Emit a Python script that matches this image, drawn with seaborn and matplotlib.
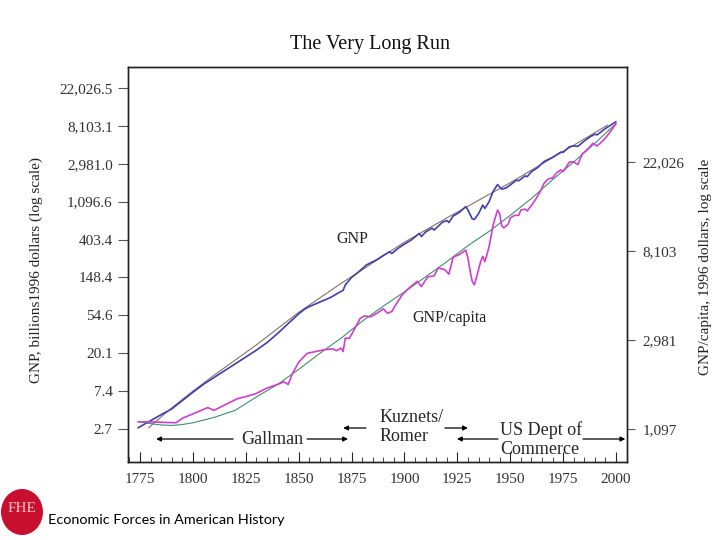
import numpy as np
import pandas as pd
import matplotlib
matplotlib.use("Agg")
import matplotlib.pyplot as plt
import seaborn as sns
from matplotlib.patches import Ellipse
from matplotlib.ticker import MultipleLocator

# ---------------- data (natural-log values) ----------------
gnp_years = [1774, 1780, 1785, 1790, 1795, 1800, 1805, 1810, 1815, 1820, 1825, 1830,
             1835, 1840, 1845, 1850, 1853, 1855, 1860, 1865, 1869, 1871, 1872, 1875,
             1878, 1882, 1887, 1890, 1893, 1894, 1897, 1900, 1903, 1907, 1908, 1910,
             1913, 1914, 1918, 1920, 1921, 1923, 1926, 1929, 1930, 1932, 1933, 1935,
             1937, 1938, 1940, 1942, 1944, 1946, 1948, 1950, 1953, 1954, 1957, 1958,
             1960, 1963, 1966, 1970, 1974, 1975, 1978, 1980, 1982, 1985, 1988, 1990,
             1991, 1995, 2000]
gnp_ln = [1.03, 1.22, 1.38, 1.53, 1.75, 1.97, 2.18, 2.36, 2.54, 2.72, 2.90, 3.08,
          3.28, 3.52, 3.78, 4.04, 4.17, 4.23, 4.35, 4.47, 4.60, 4.66, 4.80, 5.00,
          5.13, 5.33, 5.47, 5.58, 5.68, 5.63, 5.77, 5.88, 5.98, 6.16, 6.08, 6.20,
          6.30, 6.25, 6.46, 6.50, 6.45, 6.62, 6.72, 6.87, 6.78, 6.55, 6.53, 6.68,
          6.91, 6.82, 7.00, 7.28, 7.45, 7.33, 7.36, 7.44, 7.57, 7.55, 7.68, 7.66,
          7.79, 7.90, 8.06, 8.17, 8.31, 8.30, 8.45, 8.47, 8.46, 8.60, 8.72, 8.78,
          8.76, 8.93, 9.11]

gnp_trend_years = [1779, 1785, 1790, 1800, 1810, 1820, 1830, 1840, 1850, 1860, 1870,
                   1880, 1890, 1900, 1910, 1920, 1930, 1940, 1950, 1960, 1970, 1980,
                   1990, 1996]
gnp_trend_ln = [1.03, 1.32, 1.56, 2.00, 2.42, 2.82, 3.22, 3.65, 4.08, 4.46, 4.84,
                5.20, 5.57, 5.93, 6.25, 6.57, 6.88, 7.19, 7.50, 7.83, 8.16, 8.49,
                8.82, 9.02]

pc_years = [1774, 1780, 1785, 1792, 1795, 1800, 1807, 1810, 1815, 1821, 1826, 1830,
            1835, 1840, 1843, 1845, 1847, 1850, 1854, 1858, 1862, 1866, 1868, 1870,
            1871, 1872, 1874, 1877, 1879, 1881, 1884, 1887, 1890, 1892, 1894, 1896,
            1899, 1902, 1906, 1908, 1911, 1914, 1916, 1919, 1921, 1923, 1926, 1929,
            1930, 1931, 1932, 1933, 1934, 1936, 1937, 1938, 1939, 1940, 1942, 1944,
            1945, 1946, 1947, 1949, 1950, 1952, 1954, 1955, 1957, 1958, 1960, 1962,
            1964, 1966, 1968, 1970, 1972, 1974, 1975, 1978, 1980, 1982, 1984, 1986,
            1988, 1989, 1991, 1993, 1995, 1997, 2000]
pc_ln = [7.08, 7.08, 7.075, 7.07, 7.12, 7.17, 7.24, 7.21, 7.27, 7.34, 7.37, 7.40,
         7.46, 7.50, 7.53, 7.50, 7.62, 7.75, 7.85, 7.87, 7.89, 7.90, 7.88, 7.91,
         7.87, 8.02, 8.02, 8.15, 8.24, 8.27, 8.26, 8.30, 8.35, 8.30, 8.32, 8.40,
         8.51, 8.58, 8.66, 8.60, 8.71, 8.72, 8.81, 8.79, 8.74, 8.93, 8.96, 9.01,
         8.92, 8.78, 8.66, 8.62, 8.70, 8.88, 8.94, 8.88, 8.96, 9.05, 9.30, 9.46,
         9.42, 9.28, 9.26, 9.30, 9.37, 9.40, 9.40, 9.46, 9.47, 9.45, 9.51, 9.58,
         9.66, 9.76, 9.81, 9.82, 9.88, 9.91, 9.89, 10.00, 10.00, 9.97, 10.09, 10.13,
         10.18, 10.21, 10.18, 10.22, 10.27, 10.33, 10.43]

pc_trend_years = [1775, 1780, 1785, 1790, 1795, 1800, 1810, 1820, 1830, 1840, 1850,
                  1860, 1870, 1880, 1890, 1900, 1910, 1920, 1930, 1940, 1950, 1960,
                  1970, 1980, 1990, 2000]
pc_trend_ln = [7.08, 7.06, 7.045, 7.04, 7.05, 7.07, 7.13, 7.21, 7.36, 7.50, 7.67,
               7.85, 8.02, 8.21, 8.38, 8.54, 8.71, 8.88, 9.06, 9.22, 9.40, 9.59,
               9.80, 10.00, 10.21, 10.43]

left_ticks = [1, 2, 3, 4, 5, 6, 7, 8, 9, 10]
left_labels = ["2.7", "7.4", "20.1", "54.6", "148.4", "403.4", "1,096.6",
               "2,981.0", "8,103.1", "22,026.5"]
right_ticks = [7, 8, 9, 10]
right_labels = ["1,097", "2,981", "8,103", "22,026"]
x_ticks = [1775, 1800, 1825, 1850, 1875, 1900, 1925, 1950, 1975, 2000]

# ---------------- style ----------------
sns.set_style("ticks")
plt.rcParams['font.family'] = ['Liberation Serif', 'DejaVu Serif']
plt.rcParams['axes.linewidth'] = 1.0

fig = plt.figure(figsize=(7.2, 5.4), dpi=100)
ax = fig.add_axes([128/720, 1-462/540, (627-128)/720, (462-67)/540])
ax2 = ax.twinx()

df_gnp = pd.DataFrame({"year": gnp_years, "v": gnp_ln})
df_gnp_t = pd.DataFrame({"year": gnp_trend_years, "v": gnp_trend_ln})
df_pc = pd.DataFrame({"year": pc_years, "v": pc_ln})
df_pc_t = pd.DataFrame({"year": pc_trend_years, "v": pc_trend_ln})

sns.lineplot(data=df_gnp_t, x="year", y="v", ax=ax, color="#8a6e66", lw=0.8)
sns.lineplot(data=df_gnp, x="year", y="v", ax=ax, color="#3f3fb0", lw=1.2)
sns.lineplot(data=df_pc_t, x="year", y="v", ax=ax2, color="#3f8f6a", lw=0.8)
sns.lineplot(data=df_pc, x="year", y="v", ax=ax2, color="#d23cd2", lw=1.2)

ax.set_xlim(1769.3, 2005.2)
ax.set_ylim(0.129, 10.554)
ax2.set_ylim(6.629, 11.067)

ax.set_yticks(left_ticks)
ax.set_yticklabels(left_labels)
ax2.set_yticks(right_ticks)
ax2.set_yticklabels(right_labels)
ax.set_xticks(x_ticks)
ax.set_xticklabels([str(t) for t in x_ticks])
ax.xaxis.set_minor_locator(MultipleLocator(5))

ax.tick_params(axis='y', direction='out', length=7, width=0.8, labelsize=11,
               labelcolor="#333333", color="#555555", pad=4)
ax2.tick_params(axis='y', direction='out', length=6, width=0.8, labelsize=11,
                labelcolor="#333333", color="#555555", pad=5)
ax.tick_params(axis='x', which='major', direction='in', length=7, width=0.8,
               labelsize=11, labelcolor="#333333", pad=8, top=False)
ax.tick_params(axis='x', which='minor', direction='in', length=3.5, width=0.6,
               top=False)
ax2.tick_params(axis='x', which='both', top=False, bottom=False)

ax.set_xlabel("")
ax.set_ylabel("")
ax2.set_xlabel("")
ax2.set_ylabel("")
for s in ax.spines.values():
    s.set_visible(True)
    s.set_color("#222222")
for s in ax2.spines.values():
    s.set_visible(True)
    s.set_color("#222222")

# ---------------- text ----------------
fig.text(370/720, 1-44/540, "The Very Long Run", ha='center', va='center',
         fontsize=14.5, color="#111111")
fig.text(36/720, 1-270/540, "GNP, billions1996 dollars (log scale)", rotation=90,
         ha='center', va='center', fontsize=11, color="#222222")
fig.text(706/720, 1-267/540, "GNP/capita, 1996 dollars, log scale", rotation=90,
         ha='center', va='center', fontsize=11, color="#222222")

ax.text(1875.2, 6.01, "GNP", ha='center', va='center', fontsize=11.5, color="#222222")
ax.text(1921.5, 3.93, "GNP/capita", ha='center', va='center', fontsize=11.5,
        color="#222222")

y_low = 0.736
y_up = 1.026
arrow_kw = dict(arrowstyle='-|>', color='black', lw=0.9,
                mutation_scale=7, shrinkA=0, shrinkB=0)
ax.annotate("", xy=(1782.6, y_low), xytext=(1819.0, y_low), arrowprops=arrow_kw)
ax.text(1837.4, y_low, "Gallman", ha='center', va='center', fontsize=13)
ax.annotate("", xy=(1873.3, y_low), xytext=(1854.0, y_low), arrowprops=arrow_kw)
ax.annotate("", xy=(1871.0, y_up), xytext=(1881.8, y_up), arrowprops=arrow_kw)
ax.text(1888.4, 1.30, "Kuznets/", ha='left', va='center', fontsize=13)
ax.text(1888.4, 0.79, "Romer", ha='left', va='center', fontsize=13)
ax.annotate("", xy=(1930.0, y_up), xytext=(1919.1, y_up), arrowprops=arrow_kw)
ax.annotate("", xy=(1924.8, y_low), xytext=(1944.2, y_low), arrowprops=arrow_kw)
ax.text(1945.1, 0.97, "US Dept of", ha='left', va='center', fontsize=13)
ax.text(1945.1, 0.47, "Commerce", ha='left', va='center', fontsize=13)
ax.annotate("", xy=(2004.4, y_low), xytext=(1984.4, y_low), arrowprops=arrow_kw)

# ---------------- footer ----------------
logo = Ellipse((22/720, 1-512/540), 42/720, 46/540, transform=fig.transFigure,
               facecolor="#c8102e", edgecolor="none")
fig.patches.append(logo)
fig.text(22/720, 1-508/540, "FHE", ha='center', va='center', fontsize=11,
         color="#f2c0c0", family=['Liberation Serif'])
fig.text(48/720, 1-520/540, "Economic Forces in American History", ha='left',
         va='center', fontsize=10.4, color="black", family=['Lato', 'DejaVu Sans'])

fig.savefig("out.png", dpi=100)
